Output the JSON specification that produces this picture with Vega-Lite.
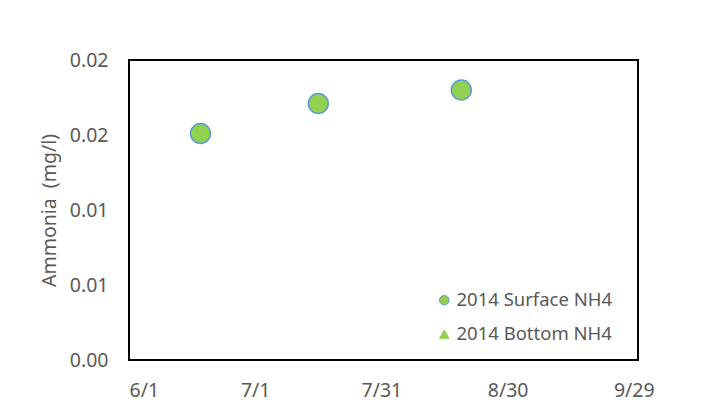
{
  "$schema": "https://vega.github.io/schema/vega-lite/v6.json",
  "width": 509,
  "height": 300,
  "autosize": {"type": "none"},
  "padding": {"left": 129, "top": 60, "right": 69, "bottom": 59},
  "background": "white",
  "config": {
    "view": {"stroke": "black", "strokeWidth": 2},
    "font": "Noto Sans",
    "axis": {
      "grid": false,
      "domain": false,
      "ticks": false,
      "labelFontSize": 19.5,
      "labelColor": "#595959",
      "titleFontSize": 19.5,
      "titleColor": "#595959",
      "titleFontWeight": "normal"
    },
    "legend": {
      "orient": "none",
      "legendX": 306,
      "legendY": 231,
      "padding": 0,
      "labelFontSize": 18.5,
      "labelColor": "#595959",
      "labelLimit": 300,
      "symbolSize": 90,
      "symbolStrokeWidth": 1,
      "rowPadding": 15,
      "labelOffset": 3
    }
  },
  "data": {
    "values": [
      {"date": "2014-06-18T00:00:00", "ammonia": 0.0151, "series": "2014 Surface NH4"},
      {"date": "2014-07-16T00:00:00", "ammonia": 0.0171, "series": "2014 Surface NH4"},
      {"date": "2014-08-19T00:00:00", "ammonia": 0.0180, "series": "2014 Surface NH4"}
    ]
  },
  "mark": {"type": "point", "size": 400, "strokeWidth": 1.5, "opacity": 1},
  "encoding": {
    "x": {
      "field": "date",
      "type": "temporal",
      "scale": {"domain": [{"year": 2014, "month": 6, "date": 1}, {"year": 2014, "month": 9, "date": 30}]},
      "axis": {
        "title": null,
        "format": "%-m/%-d",
        "labelPadding": 21,
        "values": [
          {"year": 2014, "month": 6, "date": 1},
          {"year": 2014, "month": 7, "date": 1},
          {"year": 2014, "month": 7, "date": 31},
          {"year": 2014, "month": 8, "date": 30},
          {"year": 2014, "month": 9, "date": 29}
        ]
      }
    },
    "y": {
      "field": "ammonia",
      "type": "quantitative",
      "scale": {"domain": [0, 0.02], "nice": false},
      "axis": {
        "title": "Ammonia\u00a0 (mg/l)",
        "values": [0, 0.005, 0.01, 0.015, 0.02],
        "labelExpr": "format(round(datum.value * 100 + 0.000001) / 100, '.2f')",
        "labelPadding": 21,
        "titlePadding": 10
      }
    },
    "fill": {
      "field": "series",
      "type": "nominal",
      "scale": {"domain": ["2014 Surface NH4", "2014 Bottom NH4"], "range": ["#92D050", "#92D050"]},
      "legend": {"title": null}
    },
    "stroke": {
      "field": "series",
      "type": "nominal",
      "scale": {"domain": ["2014 Surface NH4", "2014 Bottom NH4"], "range": ["#5B9BD5", "#92D050"]},
      "legend": {"title": null}
    },
    "shape": {
      "field": "series",
      "type": "nominal",
      "scale": {"domain": ["2014 Surface NH4", "2014 Bottom NH4"], "range": ["circle", "triangle-up"]},
      "legend": {"title": null}
    }
  }
}
